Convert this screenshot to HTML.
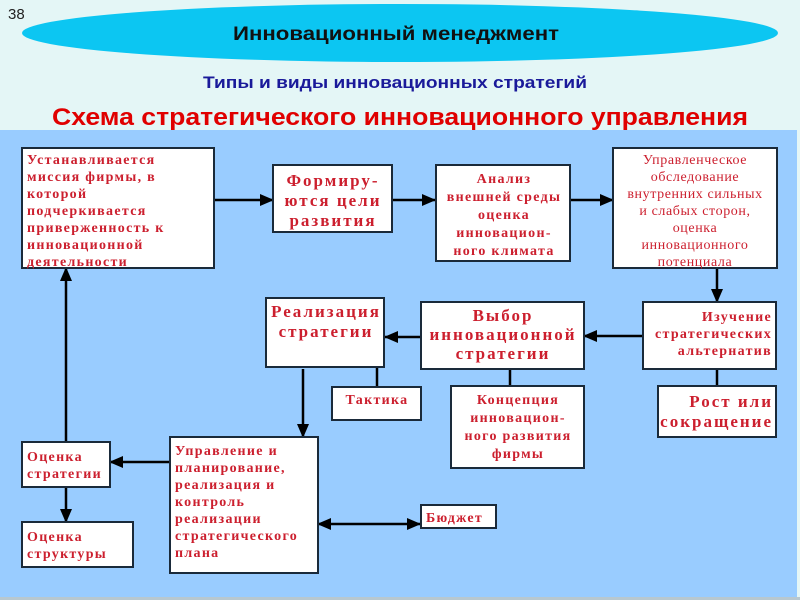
<!DOCTYPE html>
<html><head><meta charset="utf-8"><style>
html,body{margin:0;padding:0;}
body{width:800px;height:600px;background:#e4f6f6;overflow:hidden;position:relative;font-family:"Liberation Sans",sans-serif;}
svg{position:absolute;left:0;top:0;}
.b{fill:#fff;stroke:#1a2a3a;stroke-width:2;}
.t{font-family:"Liberation Serif",serif;font-weight:bold;fill:#cc1f2e;font-size:14px;letter-spacing:1.3px;}
.big{font-size:17px;letter-spacing:2px;}
.n{font-family:"Liberation Serif",serif;fill:#cc1f2e;font-size:14px;letter-spacing:0.6px;}
.l{stroke:#000;stroke-width:2.5;fill:none;}
</style></head><body>
<svg width="800" height="600" viewBox="0 0 800 600">
<defs>
<marker id="a2" markerWidth="14" markerHeight="12" refX="13" refY="6" orient="auto" markerUnits="userSpaceOnUse"><path d="M0,0 L14,6 L0,12 z" fill="#000"/></marker>
<marker id="s2" markerWidth="14" markerHeight="12" refX="1" refY="6" orient="auto" markerUnits="userSpaceOnUse"><path d="M14,0 L0,6 L14,12 z" fill="#000"/></marker></defs>
<text x="8" y="19" font-size="15" fill="#222" font-family="Liberation Sans">38</text>
<ellipse cx="400" cy="33" rx="378" ry="29" fill="#0cc6f2"/>
<text x="233" y="40" textLength="326" lengthAdjust="spacingAndGlyphs" font-size="19" font-weight="bold" fill="#111" font-family="Liberation Sans">Инновационный менеджмент</text>
<text x="203" y="88" textLength="384" lengthAdjust="spacingAndGlyphs" font-size="17" font-weight="bold" fill="#1a1a9a" font-family="Liberation Sans">Типы и виды инновационных стратегий</text>
<text x="52" y="125" textLength="696" lengthAdjust="spacingAndGlyphs" font-size="24" font-weight="bold" fill="#e00000" font-family="Liberation Sans">Схема стратегического инновационного управления</text>
<rect x="0" y="130" width="797" height="468" fill="#99ccff"/>
<rect x="0" y="597" width="800" height="3" fill="#b8c8d0"/>

<line class="l" x1="214" y1="200" x2="273" y2="200" marker-end="url(#a2)"/>
<line class="l" x1="392" y1="200" x2="435" y2="200" marker-end="url(#a2)"/>
<line class="l" x1="570" y1="200" x2="613" y2="200" marker-end="url(#a2)"/>
<line class="l" x1="717" y1="268" x2="717" y2="302" marker-end="url(#a2)"/>
<line class="l" x1="643" y1="336" x2="584" y2="336" marker-end="url(#a2)"/>
<line class="l" x1="421" y1="337" x2="385" y2="337" marker-end="url(#a2)"/>
<line class="l" x1="510" y1="369" x2="510" y2="386" stroke-width="2"/>
<line class="l" x1="717" y1="369" x2="717" y2="386" stroke-width="2"/>
<line class="l" x1="377" y1="367" x2="377" y2="387" stroke-width="2"/>
<line class="l" x1="303" y1="369" x2="303" y2="437" marker-end="url(#a2)"/>
<line class="l" x1="170" y1="462" x2="110" y2="462" marker-end="url(#a2)"/>
<line class="l" x1="66" y1="487" x2="66" y2="522" marker-end="url(#a2)"/>
<line class="l" x1="66" y1="442" x2="66" y2="268" marker-end="url(#a2)"/>
<line class="l" x1="318" y1="524" x2="420" y2="524" marker-end="url(#a2)" marker-start="url(#s2)"/>

<rect class="b" x="22" y="148" width="192" height="120"/>
<text class="t" x="27" y="164">Устанавливается</text>
<text class="t" x="27" y="181">миссия фирмы, в</text>
<text class="t" x="27" y="198">которой</text>
<text class="t" x="27" y="215">подчеркивается</text>
<text class="t" x="27" y="232">приверженность к</text>
<text class="t" x="27" y="249">инновационной</text>
<text class="t" x="27" y="266">деятельности</text>

<rect class="b" x="273" y="165" width="119" height="67"/>
<text class="t big" text-anchor="middle" x="333" y="186">Формиру-</text>
<text class="t big" text-anchor="middle" x="333" y="206">ются цели</text>
<text class="t big" text-anchor="middle" x="333" y="226">развития</text>

<rect class="b" x="436" y="165" width="134" height="96"/>
<text class="t" text-anchor="middle" x="504" y="183">Анализ</text>
<text class="t" text-anchor="middle" x="504" y="201">внешней среды</text>
<text class="t" text-anchor="middle" x="504" y="219">оценка</text>
<text class="t" text-anchor="middle" x="504" y="237">инновацион-</text>
<text class="t" text-anchor="middle" x="504" y="255">ного климата</text>

<rect class="b" x="613" y="148" width="164" height="120"/>
<text class="n" text-anchor="middle" x="695" y="164">Управленческое</text>
<text class="n" text-anchor="middle" x="695" y="181">обследование</text>
<text class="n" text-anchor="middle" x="695" y="198">внутренних сильных</text>
<text class="n" text-anchor="middle" x="695" y="215">и слабых сторон,</text>
<text class="n" text-anchor="middle" x="695" y="232">оценка</text>
<text class="n" text-anchor="middle" x="695" y="249">инновационного</text>
<text class="n" text-anchor="middle" x="695" y="266">потенциала</text>

<rect class="b" x="643" y="302" width="133" height="67"/>
<text class="t" text-anchor="end" x="772" y="321">Изучение</text>
<text class="t" text-anchor="end" x="772" y="338">стратегических</text>
<text class="t" text-anchor="end" x="772" y="355">альтернатив</text>

<rect class="b" x="421" y="302" width="163" height="67"/>
<text class="t big" text-anchor="middle" x="503" y="321">Выбор</text>
<text class="t big" text-anchor="middle" x="503" y="340">инновационной</text>
<text class="t big" text-anchor="middle" x="503" y="359">стратегии</text>

<rect class="b" x="266" y="298" width="118" height="69"/>
<text class="t big" text-anchor="middle" x="326" y="317">Реализация</text>
<text class="t big" text-anchor="middle" x="326" y="337">стратегии</text>

<rect class="b" x="332" y="387" width="89" height="33"/>
<text class="t" text-anchor="middle" x="377" y="404">Тактика</text>

<rect class="b" x="451" y="386" width="133" height="82"/>
<text class="t" text-anchor="middle" x="518" y="404">Концепция</text>
<text class="t" text-anchor="middle" x="518" y="422">инновацион-</text>
<text class="t" text-anchor="middle" x="518" y="440">ного развития</text>
<text class="t" text-anchor="middle" x="518" y="458">фирмы</text>

<rect class="b" x="658" y="386" width="118" height="51"/>
<text class="t big" text-anchor="end" x="773" y="407">Рост или</text>
<text class="t big" text-anchor="end" x="773" y="427">сокращение</text>

<rect class="b" x="22" y="442" width="88" height="45"/>
<text class="t" x="27" y="461">Оценка</text>
<text class="t" x="27" y="478">стратегии</text>

<rect class="b" x="22" y="522" width="111" height="45"/>
<text class="t" x="27" y="541">Оценка</text>
<text class="t" x="27" y="558">структуры</text>

<rect class="b" x="170" y="437" width="148" height="136"/>
<text class="t" x="175" y="455">Управление и</text>
<text class="t" x="175" y="472">планирование,</text>
<text class="t" x="175" y="489">реализация и</text>
<text class="t" x="175" y="506">контроль</text>
<text class="t" x="175" y="523">реализации</text>
<text class="t" x="175" y="540">стратегического</text>
<text class="t" x="175" y="557">плана</text>

<rect class="b" x="421" y="505" width="75" height="23"/>
<text class="t" x="426" y="522">Бюджет</text>
</svg>
</body></html>
